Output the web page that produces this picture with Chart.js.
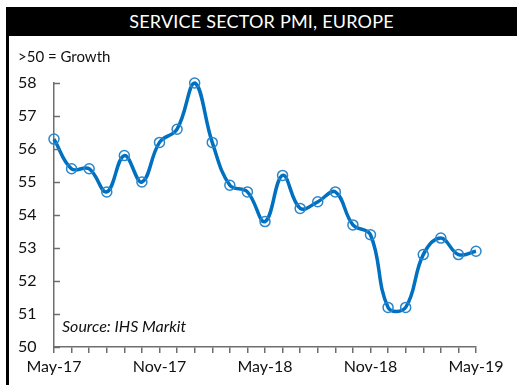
<!DOCTYPE html>
<html lang="en">
<head>
  <meta charset="UTF-8">
  <title>Service Sector PMI, Europe</title>
  <script src="https://cdn.jsdelivr.net/npm/chart.js"></script>
  <style>
    * { box-sizing: border-box; }
    body {
      margin: 0;
      width: 517px;
      height: 385px;
      background: white;
      font-family: 'Lato', sans-serif;
      position: relative;
      overflow: hidden;
    }
    .frame {
      position: absolute;
      left: 6px;
      top: 7px;
      width: 3px;
      height: 378px;
      background: black;
    }
    .title {
      position: absolute;
      left: 6px;
      top: 7px;
      width: 511px;
      height: 29px;
      background: black;
      color: white;
      font-size: 18px;
      line-height: 29px;
      text-align: center;
      letter-spacing: 0.2px;
    }
    .note {
      position: absolute;
      left: 18px;
      top: 47px;
      font-size: 15px;
      color: #111;
    }
    .source {
      position: absolute;
      left: 62px;
      top: 316px;
      font-size: 16px;
      font-style: italic;
      color: #111;
    }
    #pmiChart {
      position: absolute;
      left: 0;
      top: 0;
    }
  </style>
</head>
<body>
  <canvas id="pmiChart" width="517" height="385"></canvas>
  <div class="frame"></div>
  <div class="title">SERVICE SECTOR PMI, EUROPE</div>
  <div class="note">&gt;50 = Growth</div>
  <div class="source">Source: IHS Markit</div>
  <script>
    const months = [
      'May-17', 'Jun-17', 'Jul-17', 'Aug-17', 'Sep-17', 'Oct-17', 'Nov-17', 'Dec-17',
      'Jan-18', 'Feb-18', 'Mar-18', 'Apr-18', 'May-18', 'Jun-18', 'Jul-18', 'Aug-18',
      'Sep-18', 'Oct-18', 'Nov-18', 'Dec-18', 'Jan-19', 'Feb-19', 'Mar-19', 'Apr-19', 'May-19'
    ];
    const pmi = [
      56.3, 55.4, 55.4, 54.7, 55.8, 55.0, 56.2, 56.6,
      58.0, 56.2, 54.9, 54.7, 53.8, 55.2, 54.2, 54.4,
      54.7, 53.7, 53.4, 51.2, 51.2, 52.8, 53.3, 52.8, 52.9
    ];
    const yMin = 50;
    const yMax = 58;

    // y tick marks point into the plot, so draw them by hand
    const innerTicks = {
      id: 'innerTicks',
      afterDraw(chart) {
        const c = chart.ctx;
        const y = chart.scales.y;
        const left = chart.chartArea.left;
        c.save();
        c.strokeStyle = '#6e6e6e';
        c.lineWidth = 1.5;
        y.ticks.forEach(t => {
          const py = Math.round(y.getPixelForValue(t.value)) + 0.5;
          c.beginPath();
          c.moveTo(left, py);
          c.lineTo(left + 6, py);
          c.stroke();
        });
        c.restore();
      }
    };

    new Chart(document.getElementById('pmiChart'), {
      type: 'line',
      data: {
        labels: months,
        datasets: [{
          data: pmi,
          clip: false,
          borderColor: '#0070c0',
          borderWidth: 3.5,
          tension: 0.4,
          pointRadius: 5,
          pointBorderWidth: 1.5,
          pointBorderColor: '#2a86cc',
          pointBackgroundColor: 'rgba(255,255,255,0)'
        }]
      },
      options: {
        responsive: false,
        animation: false,
        devicePixelRatio: 1,
        layout: { padding: { left: 18, top: 83, right: 41, bottom: 0 } },
        plugins: { legend: { display: false }, tooltip: { enabled: false } },
        scales: {
          x: {
            offset: false,
            afterFit: s => { s.height = 38; },
            grid: { drawOnChartArea: false, tickLength: 6, color: '#6e6e6e', lineWidth: 1.5 },
            border: { color: '#6e6e6e', width: 1.5 },
            ticks: {
              autoSkip: false,
              maxRotation: 0,
              padding: 4,
              color: '#111',
              font: { family: 'Lato', size: 16 },
              callback: (v, i) => (i % 6 === 0 ? months[i] : '')
            }
          },
          y: {
            min: yMin,
            max: yMax,
            afterFit: s => { s.width = 36; },
            grid: { display: false },
            border: { color: '#6e6e6e', width: 1.5 },
            ticks: {
              stepSize: 1,
              crossAlign: 'far',
              color: '#111',
              font: { family: 'Lato', size: 16 }
            }
          }
        }
      },
      plugins: [innerTicks]
    });
  </script>
</body>
</html>
